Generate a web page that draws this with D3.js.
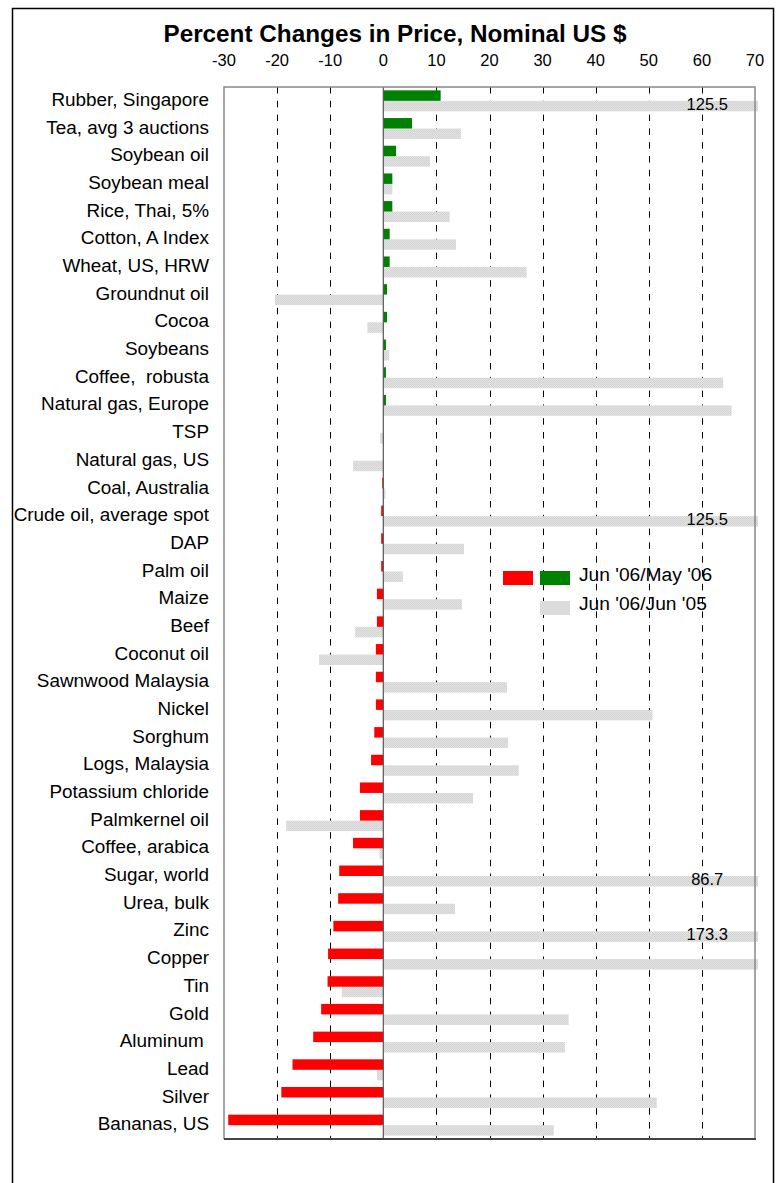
<!DOCTYPE html>
<html>
<head>
<meta charset="utf-8">
<script src="https://cdn.jsdelivr.net/npm/d3@7"></script>
<style>
  html, body { margin: 0; padding: 0; background: #fff; }
  svg { display: block; font-family: "Liberation Sans", Arial, sans-serif; }
  .cat { white-space: pre; }
</style>
</head>
<body>
<svg id="chart" width="778" height="1183"></svg>
<script>
// ---- data ----
const categories = [
  "Rubber, Singapore", "Tea, avg 3 auctions", "Soybean oil", "Soybean meal",
  "Rice, Thai, 5%", "Cotton, A Index", "Wheat, US, HRW", "Groundnut oil",
  "Cocoa", "Soybeans", "Coffee,  robusta", "Natural gas, Europe", "TSP",
  "Natural gas, US", "Coal, Australia", "Crude oil, average spot", "DAP",
  "Palm oil", "Maize", "Beef", "Coconut oil", "Sawnwood Malaysia", "Nickel",
  "Sorghum", "Logs, Malaysia", "Potassium chloride", "Palmkernel oil",
  "Coffee, arabica", "Sugar, world", "Urea, bulk", "Zinc", "Copper", "Tin",
  "Gold", "Aluminum ", "Lead", "Silver", "Bananas, US"
];
// Jun '06 / May '06 (% change)
const monthly = [
  10.8, 5.4, 2.4, 1.7, 1.7, 1.2, 1.2, 0.7,
  0.7, 0.5, 0.5, 0.5, 0.0,
  0.0, -0.2, -0.4, -0.4,
  -0.4, -1.2, -1.2, -1.4, -1.4, -1.4,
  -1.7, -2.3, -4.4, -4.4,
  -5.7, -8.3, -8.5, -9.4, -10.4, -10.5,
  -11.7, -13.2, -17.1, -19.2, -29.2
];
// Jun '06 / Jun '05 (% change)
const yearly = [
  125.5, 14.6, 8.8, 1.7, 12.5, 13.7, 27.0, -20.4,
  -3.0, 1.1, 64.0, 65.6, -0.6,
  -5.7, 0.4, 125.5, 15.2,
  3.7, 14.8, -5.3, -12.1, 23.3, 50.7,
  23.5, 25.5, 16.9, -18.3,
  -0.7, 86.7, 13.5, 173.3, 104.0, -7.8,
  34.9, 34.2, -1.2, 51.5, 32.1
];
// off-scale values that carry a text annotation
const annotated = ["Rubber, Singapore", "Crude oil, average spot", "Sugar, world", "Zinc"];
const xTicks = [-30, -20, -10, 0, 10, 20, 30, 40, 50, 60, 70];
const gridTicks = [-20, -10, 10, 20, 30, 40, 50, 60];
const title = "Percent Changes in Price, Nominal US $";
const legendLabels = ["Jun '06/May '06", "Jun '06/Jun '05"];

// ---- layout ----
const svg = d3.select("#chart");
const plot = { left: 224, right: 755, top: 87, bottom: 1139 };
const colors = { up: "#008000", down: "#ff0000" };

const x = d3.scaleLinear().domain([-30, 70]).range([plot.left, plot.right]);
const y = d3.scaleBand().domain(categories).range([plot.top, plot.bottom]).padding(0);
const sub = d3.scaleBand().domain(["m", "y"]).range([0, y.bandwidth()])
  .paddingInner(0).paddingOuter(0.32);

// pattern for grey bars (Excel-like fine dot fill)
const defs = svg.append("defs");
const pat = defs.append("pattern").attr("id", "dots")
  .attr("width", 2).attr("height", 2).attr("patternUnits", "userSpaceOnUse");
pat.append("rect").attr("width", 2).attr("height", 2).attr("fill", "#e2e2e2");
pat.append("rect").attr("width", 1).attr("height", 1).attr("fill", "#d2d2d2");
pat.append("rect").attr("x", 1).attr("y", 1).attr("width", 1).attr("height", 1).attr("fill", "#d6d6d6");

// outer frame
svg.append("path")
  .attr("d", "M12.5,1183 V8.5 H773.5 V1183")
  .attr("fill", "none").attr("stroke", "#000").attr("stroke-width", 1.5);

// title
svg.append("text")
  .attr("x", 395).attr("y", 42)
  .attr("text-anchor", "middle")
  .attr("font-size", 24.3).attr("font-weight", "bold")
  .text(title);

// tick labels on top
svg.append("g").selectAll("text").data(xTicks).join("text")
  .attr("x", d => x(d)).attr("y", 66)
  .attr("text-anchor", "middle").attr("font-size", 16.5)
  .text(d => d);

// gridlines
svg.append("g").selectAll("line").data(gridTicks).join("line")
  .attr("x1", d => Math.round(x(d)) + 0.5).attr("x2", d => Math.round(x(d)) + 0.5)
  .attr("y1", plot.top).attr("y2", plot.bottom)
  .attr("stroke", "#000").attr("stroke-width", 1)
  .attr("stroke-dasharray", "6.5,7.3");

// bars
const clampX = v => Math.max(x.range()[0], Math.min(x.range()[1] + 3, x(v)));
const rows = categories.map((c, i) => ({ c, m: monthly[i], yv: yearly[i] }));

svg.append("g").selectAll("rect").data(rows).join("rect")
  .attr("x", d => Math.min(clampX(d.yv), x(0)))
  .attr("width", d => Math.abs(clampX(d.yv) - x(0)))
  .attr("y", d => y(d.c) + sub("y"))
  .attr("height", sub.bandwidth())
  .attr("fill", "url(#dots)");

svg.append("g").selectAll("rect").data(rows).join("rect")
  .attr("x", d => Math.min(clampX(d.m), x(0)))
  .attr("width", d => Math.abs(clampX(d.m) - x(0)))
  .attr("y", d => y(d.c) + sub("m"))
  .attr("height", sub.bandwidth())
  .attr("fill", d => d.m >= 0 ? colors.up : colors.down);

// annotations for off-scale values
svg.append("g").selectAll("text").data(rows.filter(d => annotated.includes(d.c))).join("text")
  .attr("x", x(61)).attr("y", d => y(d.c) + sub("y") + sub.bandwidth() / 2 - 2)
  .attr("dy", "0.35em")
  .attr("text-anchor", "middle").attr("font-size", 16.5)
  .text(d => d.yv);

// zero line
svg.append("line")
  .attr("x1", x(0)).attr("x2", x(0))
  .attr("y1", plot.top).attr("y2", plot.bottom)
  .attr("stroke", "#555").attr("stroke-width", 1.2);

// plot frame
svg.append("path")
  .attr("d", `M${plot.left},${plot.bottom} V${plot.top} H${plot.right} V${plot.bottom}`)
  .attr("fill", "none").attr("stroke", "#888").attr("stroke-width", 1.5);
svg.append("line")
  .attr("x1", plot.left).attr("x2", plot.right + 1)
  .attr("y1", plot.bottom).attr("y2", plot.bottom)
  .attr("stroke", "#444").attr("stroke-width", 2);

// category labels
svg.append("g").selectAll("text").data(categories).join("text")
  .attr("class", "cat")
  .attr("x", 209).attr("y", d => y(d) + y.bandwidth() / 2 - 1.5)
  .attr("dy", "0.35em")
  .attr("text-anchor", "end").attr("font-size", 18.9)
  .text(d => d);

// legend
const lg = svg.append("g");
lg.append("rect").attr("x", 503).attr("y", 571).attr("width", 30).attr("height", 14).attr("fill", colors.down);
lg.append("rect").attr("x", 540).attr("y", 571).attr("width", 30).attr("height", 14).attr("fill", colors.up);
lg.append("rect").attr("x", 540).attr("y", 601).attr("width", 30).attr("height", 14).attr("fill", "#dcdcdc");
lg.selectAll("text").data(legendLabels).join("text")
  .attr("x", 579).attr("y", (d, i) => 581 + i * 29)
  .attr("font-size", 19.2)
  .text(d => d);
</script>
</body>
</html>
